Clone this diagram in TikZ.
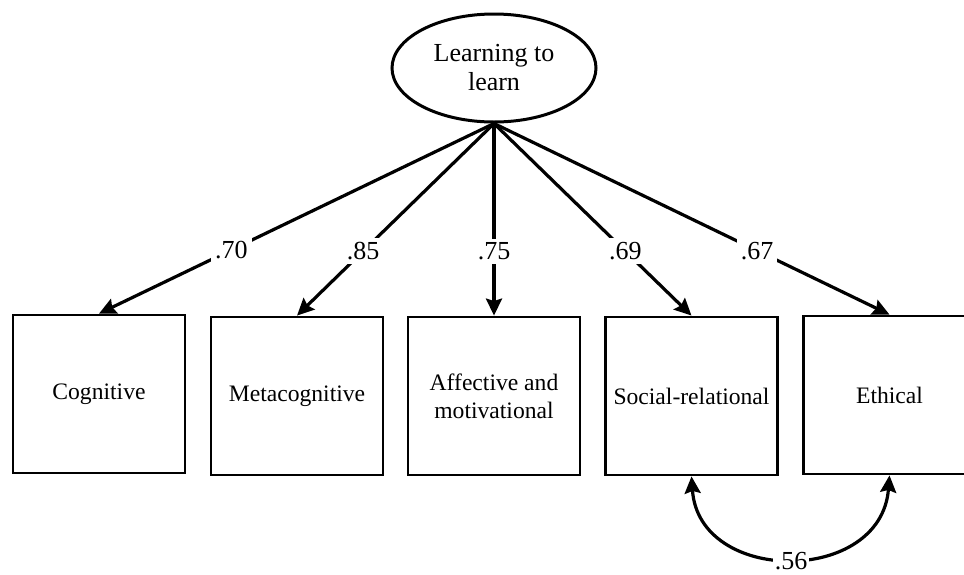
\documentclass[tikz,border=0pt]{standalone}
\usepackage{fontspec}
\setmainfont{Liberation Serif}
\usetikzlibrary{arrows.meta,shapes.geometric}
\begin{document}
\begin{tikzpicture}[x=0.5pt,y=-0.5pt,
  every node/.style={font=\fontsize{13}{14.5}\selectfont},
  latent/.style={draw,ellipse,line width=1.5pt,minimum width=102pt,minimum height=54pt,inner sep=0pt,align=center},
  obsbox/.style={draw,rectangle,line width=1.4pt,minimum width=86pt,minimum height=79pt,inner sep=0pt,align=center,font=\fontsize{11.8}{14}\selectfont},
  tipstyle/.style={},
  path/.style={line width=1.6pt,-{Stealth[length=8.5pt,width=8pt,inset=1.2pt]}},
  cov/.style={line width=1.6pt,{Stealth[length=8.5pt,width=8pt,inset=1.2pt]}-{Stealth[length=8.5pt,width=8pt,inset=1.2pt]}},
  coef/.style={fill=white,inner sep=2pt}]
\useasboundingbox (0,0) rectangle (964,574);
\node[latent] (L) at (494,68) {Learning to\\learn};
\node[obsbox] (C) at (99,394) {Cognitive};
\node[obsbox] (M) at (297,396) {Metacognitive};
\node[obsbox] (A) at (494,396) {Affective and\\motivational};
\node[obsbox] (S) at (691.5,396) {Social-relational};
\node[obsbox] (E) at (889.5,395) {Ethical};
\draw[path] (L.south) -- node[coef,pos=0.665] {.70} (C.north);
\draw[path] (L.south) -- node[coef,pos=0.665] {.85} (M.north);
\draw[path] (L.south) -- node[coef,pos=0.665] {.75} (A.north);
\draw[path] (L.south) -- node[coef,pos=0.665] {.69} (S.north);
\draw[path] (L.south) -- node[coef,pos=0.665] {.67} (E.north);
\draw[cov] (S.south) .. controls (699,585) and (881,585) .. (E.south);
\node[coef,inner sep=1pt] (r) at (791,561) {.56};
\end{tikzpicture}
\end{document}
